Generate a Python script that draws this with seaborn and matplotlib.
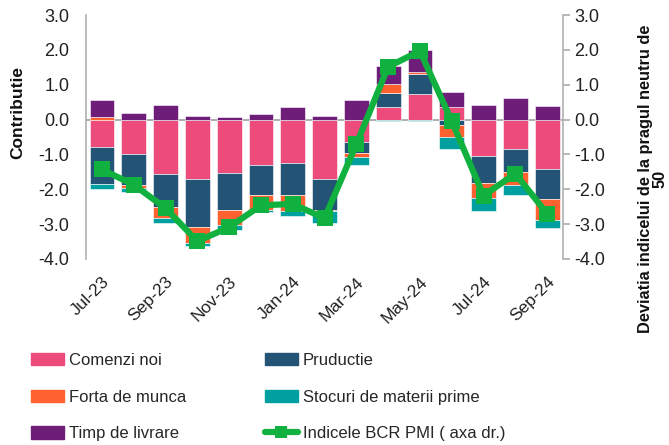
import numpy as np
import matplotlib
matplotlib.use("Agg")
import matplotlib.pyplot as plt
import matplotlib.patches as mpatches
import matplotlib.lines as mlines
import seaborn as sns
import pandas as pd

months = ["Jul-23", "Aug-23", "Sep-23", "Oct-23", "Nov-23", "Dec-23", "Jan-24", "Feb-24",
          "Mar-24", "Apr-24", "May-24", "Jun-24", "Jul-24", "Aug-24", "Sep-24"]
comenzi = [-0.79, -0.99, -1.56, -1.70, -1.54, -1.30, -1.25, -1.69, -0.63, 0.35, 0.73, 0.35, -1.03, -0.83, -1.41]
productie = [-1.07, -0.90, -0.95, -1.38, -1.04, -0.87, -0.92, -0.91, -0.34, 0.42, 0.59, -0.14, -0.79, -0.67, -0.88]
forta = [0.08, -0.07, -0.30, -0.46, -0.44, -0.43, -0.44, -0.03, -0.10, 0.25, 0.06, -0.36, -0.42, -0.37, -0.60]
stocuri = [-0.12, -0.12, -0.16, -0.08, -0.16, -0.05, -0.15, -0.35, -0.23, -0.04, -0.04, -0.33, -0.39, -0.30, -0.22]
timp = [0.47, 0.19, 0.41, 0.10, 0.07, 0.15, 0.35, 0.10, 0.57, 0.52, 0.62, 0.45, 0.43, 0.62, 0.38]
pmi = [-1.43, -1.87, -2.54, -3.49, -3.09, -2.46, -2.42, -2.83, -0.71, 1.52, 1.97, -0.04, -2.18, -1.55, -2.70]

series_names = ["Comenzi noi", "Pruductie", "Forta de munca", "Stocuri de materii prime", "Timp de livrare"]
series_vals = [comenzi, productie, forta, stocuri, timp]
colors = ["#EC4B7C", "#245475", "#FF6130", "#00A0A0", "#6E1E78"]
green = "#10B13E"
pmi_name = "Indicele BCR PMI ( axa dr.)"

sns.set_theme(style="white")
plt.rcParams["font.family"] = ["Liberation Sans", "DejaVu Sans"]

fig = plt.figure(figsize=(6.69, 4.45), dpi=100)
ax = fig.add_axes([0.1286, 0.418, 0.713, 0.548])

x = np.arange(len(months))
pos_base = np.zeros(len(months))
neg_base = np.zeros(len(months))
for name, vals, c in zip(series_names, series_vals, colors):
    v = np.array(vals)
    bottoms = np.where(v >= 0, pos_base, neg_base)
    ax.bar(x, v, bottom=bottoms, width=0.78, color=c, edgecolor="white", linewidth=0.4, zorder=2)
    pos_base = pos_base + np.where(v >= 0, v, 0)
    neg_base = neg_base + np.where(v < 0, v, 0)

ax.axhline(0, color="#A0A0A0", lw=1.2, zorder=1)

ax2 = ax.twinx()
df = pd.DataFrame({"x": x, "pmi": pmi})
sns.lineplot(data=df, x="x", y="pmi", ax=ax2, color=green, lw=4.5, marker="s",
             markersize=12, markeredgewidth=0, zorder=5)

ticks = np.arange(-4, 3.01, 1.0)
for a in (ax, ax2):
    a.set_ylim(-4.0, 3.0)
    a.set_yticks(ticks)
    a.set_yticklabels([f"{t:.1f}" for t in ticks], fontsize=13, color="#222222")
    a.set_xlim(-0.5, len(months) - 0.5)
    for s in a.spines.values():
        s.set_visible(False)
ax2.set_ylabel("")
ax2.set_xlabel("")

ax.spines["left"].set_visible(True)
ax.spines["left"].set_color("#B0B0B0")
ax.spines["left"].set_linewidth(1.2)
ax2.spines["right"].set_visible(True)
ax2.spines["right"].set_color("#B0B0B0")
ax2.spines["right"].set_linewidth(1.2)
ax.tick_params(axis="y", length=0, pad=12)
ax2.tick_params(axis="y", right=True, length=5, color="#B0B0B0", pad=3, direction="out")

ax.set_xticks(x[::2])
ax.set_xticklabels(months[::2], rotation=45, ha="right", rotation_mode="anchor", fontsize=12.5, color="#222222")
ax.tick_params(axis="x", length=0, pad=11)

fig.text(0.026, 0.748, "Contributie", rotation=90, ha="center", va="center",
         fontsize=12.5, fontweight="bold", color="#111111")
fig.text(0.976, 0.598, "Deviatia indicelui de la pragul neutru de\n50", rotation=90,
         ha="center", va="center", multialignment="center",
         fontsize=11.8, fontweight="bold", color="#111111", linespacing=1.0)

h_col1 = [mpatches.Patch(color=colors[0]), mpatches.Patch(color=colors[2]), mpatches.Patch(color=colors[4])]
l_col1 = [series_names[0], series_names[2], series_names[4]]
h_col2 = [mpatches.Patch(color=colors[1]), mpatches.Patch(color=colors[3]),
          mlines.Line2D([], [], color=green, lw=4.5, marker="s", markersize=9, markeredgewidth=0)]
l_col2 = [series_names[1], series_names[3], pmi_name]
leg_kw = dict(loc="upper left", frameon=False, fontsize=12, handlelength=2.0, handleheight=0.75,
              handletextpad=0.3, labelspacing=1.3, borderaxespad=0, borderpad=0.4)
leg1 = fig.legend(h_col1, l_col1, bbox_to_anchor=(32 / 669 - 0.012, 0.222), **leg_kw)
leg2 = fig.legend(h_col2, l_col2, bbox_to_anchor=(266 / 669 - 0.012, 0.222), **leg_kw)

fig.savefig("out.png", dpi=100)
